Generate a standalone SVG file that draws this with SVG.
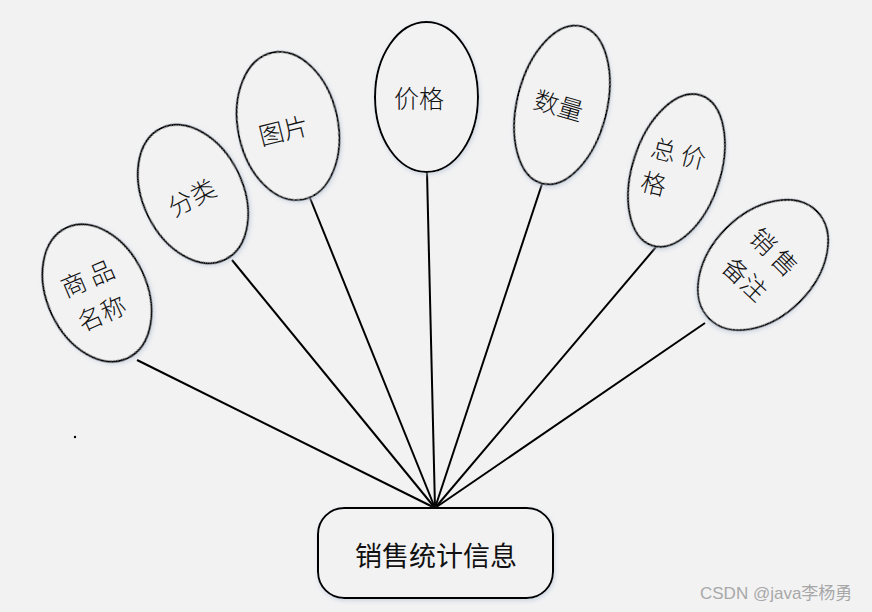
<svg xmlns="http://www.w3.org/2000/svg" width="872" height="612" viewBox="0 0 872 612">
<defs>
<filter id="sh" x="-20%" y="-20%" width="140%" height="140%">
<feDropShadow dx="1" dy="2" stdDeviation="2" flood-color="#b8c4d6" flood-opacity="0.6"/>
</filter>
</defs>
<style>
.e{fill:#f2f2f3;stroke:#000;stroke-width:2;filter:url(#sh)}
.t{font-family:"Noto Sans CJK SC","Noto Sans",sans-serif;font-size:25px;font-weight:300;fill:#111;text-anchor:middle;dominant-baseline:central}
.c{stroke:#000;stroke-width:2;fill:none}
</style>
<rect width="872" height="612" fill="#f2f2f3"/>
<g id="connectors">
<line class="c" x1="137" y1="360" x2="435" y2="508"/>
<line class="c" x1="232" y1="260" x2="435" y2="508"/>
<line class="c" x1="310" y1="198" x2="435" y2="508"/>
<line class="c" x1="427" y1="172" x2="435" y2="508"/>
<line class="c" x1="542" y1="184" x2="435" y2="508"/>
<line class="c" x1="656" y1="247" x2="435" y2="508"/>
<line class="c" x1="705" y1="323" x2="435" y2="508"/>
</g>
<g id="n1">
<ellipse class="e" cx="97" cy="293" rx="50" ry="72" transform="rotate(-25 97 293)"/>
<text class="t" x="87" y="277" transform="rotate(-23 87 277)">商 品</text>
<text class="t" x="101" y="312" transform="rotate(-24 101 312)">名称</text>
</g>
<g id="n2">
<ellipse class="e" cx="193" cy="194" rx="50" ry="73" transform="rotate(-26 193 194)"/>
<text class="t" x="191" y="196" transform="rotate(-28 191 196)">分类</text>
</g>
<g id="n3">
<ellipse class="e" cx="288" cy="126" rx="50" ry="75" transform="rotate(-12 288 126)"/>
<text class="t" x="283" y="129" transform="rotate(-14 283 129)">图片</text>
</g>
<g id="n4">
<ellipse class="e" cx="426.5" cy="97" rx="51.5" ry="75"/>
<text class="t" x="419" y="97">价格</text>
</g>
<g id="n5">
<ellipse class="e" cx="562" cy="105" rx="45" ry="81" transform="rotate(14 562 105)"/>
<text class="t" x="559" y="104" transform="rotate(16 559 104)">数量</text>
</g>
<g id="n6">
<ellipse class="e" cx="676.5" cy="170.5" rx="44" ry="79" transform="rotate(18 676.5 170.5)"/>
<text class="t" x="679" y="152" transform="rotate(14 679 152)">总 价</text>
<text class="t" x="654" y="182" transform="rotate(14 654 182)">格</text>
</g>
<g id="n7">
<ellipse class="e" cx="763" cy="265" rx="52" ry="76" transform="rotate(45 763 265)"/>
<text class="t" x="775" y="251" transform="rotate(45 775 251)">销 售</text>
<text class="t" x="746" y="278" transform="rotate(43 746 278)">备注</text>
</g>
<g id="main">
<rect class="e" x="318" y="508" width="235" height="90" rx="26"/>
<text class="t" x="436" y="554" style="font-size:27px;font-weight:400">销售统计信息</text>
</g>
<circle cx="75" cy="437" r="1.2" fill="#000"/>
<text x="700" y="599" style="font-family:'Liberation Sans','Noto Sans CJK SC',sans-serif;font-size:17px;fill:#a8a8a8">CSDN @java李杨勇</text>
</svg>
